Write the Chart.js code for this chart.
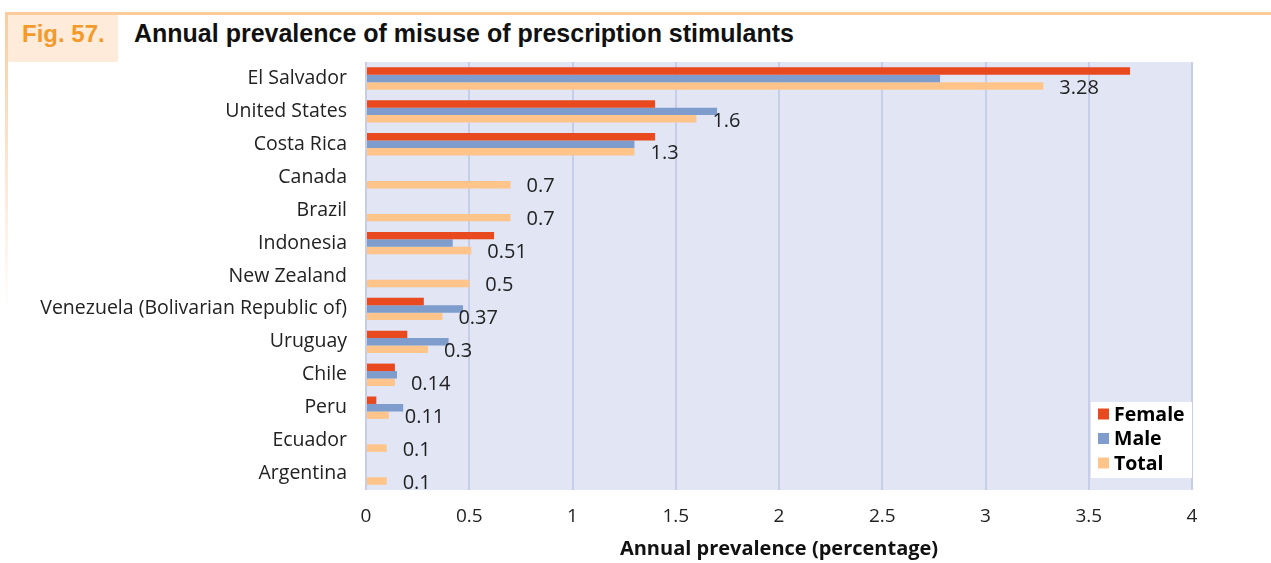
<!DOCTYPE html>
<html>
<head>
<meta charset="utf-8">
<script src="https://cdn.jsdelivr.net/npm/chart.js@4.4.0/dist/chart.umd.min.js"></script>
<style>
  html, body { margin: 0; padding: 0; background: #fff; width: 1271px; height: 563px; overflow: hidden; }
  #wrap { position: relative; width: 1271px; height: 563px; }
  #topline { position: absolute; left: 5px; top: 12px; width: 1266px; height: 3px; background: #FBCB9C; }
  #sideline { position: absolute; left: 5px; top: 12px; width: 3px; height: 300px;
              background: linear-gradient(#FBCB9C, rgba(251, 203, 156, 0)); }
  #figbox { position: absolute; left: 8px; top: 15px; width: 110px; height: 47px; background: #FEEBD9; }
  #fig { position: absolute; left: 22px; top: 20px; font: bold 24px 'Liberation Sans', Arial, sans-serif; color: #F39A2B; white-space: nowrap; }
  #title { position: absolute; left: 134px; top: 19px; font: bold 25px 'Liberation Sans', Arial, sans-serif; color: #111; white-space: nowrap; }
  canvas { position: absolute; left: 0; top: 0; }
</style>
</head>
<body>
<div id="wrap">
  <div id="topline"></div>
  <div id="sideline"></div>
  <div id="figbox"></div>
  <div id="fig">Fig. 57.</div>
  <div id="title">Annual prevalence of misuse of prescription stimulants</div>
  <canvas id="chart" width="1271" height="563"></canvas>
</div>
<script>
// Countries, top to bottom
const categories = [
  'El Salvador', 'United States', 'Costa Rica', 'Canada', 'Brazil', 'Indonesia',
  'New Zealand', 'Venezuela (Bolivarian Republic of)', 'Uruguay', 'Chile', 'Peru',
  'Ecuador', 'Argentina'
];
// Annual prevalence (%) by sex; null where no breakdown is available
const female = [3.7, 1.4, 1.4, null, null, 0.62, null, 0.28, 0.2, 0.14, 0.05, null, null];
const male   = [2.78, 1.7, 1.3, null, null, 0.42, null, 0.47, 0.4, 0.15, 0.18, null, null];
const total  = [3.28, 1.6, 1.3, 0.7, 0.7, 0.51, 0.5, 0.37, 0.3, 0.14, 0.11, 0.1, 0.1];
const xTicks = [0, 0.5, 1, 1.5, 2, 2.5, 3, 3.5, 4];

const seriesNames = ['Female', 'Male', 'Total'];
const seriesColors = ['#E8491F', '#7E9DCC', '#FFC48A'];

const FONT = "'Open Sans', 'Noto Sans', sans-serif";

// Lavender plot background
const plotBackground = {
  id: 'plotBackground',
  beforeDraw(chart) {
    const { ctx, chartArea: a } = chart;
    ctx.save();
    ctx.fillStyle = '#E1E5F4';
    ctx.fillRect(a.left, a.top, a.right - a.left + 1, a.bottom - a.top);
    ctx.restore();
  }
};

// Value labels after the Total bars
const totalLabels = {
  id: 'totalLabels',
  afterDatasetsDraw(chart) {
    const { ctx } = chart;
    const meta = chart.getDatasetMeta(2);
    ctx.save();
    ctx.font = '20px ' + FONT;
    ctx.fillStyle = '#222';
    ctx.textAlign = 'left';
    ctx.textBaseline = 'middle';
    meta.data.forEach((bar, i) => {
      const v = chart.data.datasets[2].data[i];
      if (v == null) return;
      ctx.fillText(String(v), bar.x + 16, bar.y + 2);
    });
    ctx.restore();
  }
};

// Boxed legend in the lower right of the plot
const boxLegend = {
  id: 'boxLegend',
  afterDraw(chart) {
    const { ctx, chartArea: a } = chart;
    const left = a.right - 101, top = a.bottom - 88;
    ctx.save();
    ctx.fillStyle = '#fff';
    ctx.fillRect(left, top, 101, 76);
    ctx.font = 'bold 19.5px ' + FONT;
    ctx.textBaseline = 'middle';
    ctx.textAlign = 'left';
    chart.data.datasets.forEach((ds, i) => {
      const cy = top + 12 + i * 24.5;
      ctx.fillStyle = ds.backgroundColor;
      ctx.fillRect(left + 7, cy - 5.5, 11, 11);
      ctx.fillStyle = '#000';
      ctx.fillText(ds.label, left + 23, cy + 1);
    });
    ctx.restore();
  }
};

function draw() {
  new Chart(document.getElementById('chart'), {
    type: 'bar',
    data: {
      labels: categories,
      datasets: [female, male, total].map((d, i) => ({
        label: seriesNames[i],
        data: d,
        backgroundColor: seriesColors[i],
        borderWidth: 0,
        barPercentage: 1,
        categoryPercentage: 0.68
      }))
    },
    options: {
      indexAxis: 'y',
      responsive: false,
      animation: false,
      layout: { padding: { top: 62, right: 79, left: 0, bottom: 0 } },
      plugins: { legend: { display: false }, tooltip: { enabled: false } },
      scales: {
        x: {
          min: 0,
          max: 4,
          afterBuildTicks(scale) { scale.ticks = xTicks.map(v => ({ value: v })); },
          afterFit(scale) { scale.height = 73; },
          ticks: {
            font: { family: FONT, size: 19 },
            color: '#222',
            padding: 15,
            callback: v => String(v)
          },
          grid: { color: '#C6CDE6', lineWidth: 2, drawTicks: false },
          border: { display: false },
          title: {
            display: true,
            text: 'Annual prevalence (percentage)',
            font: { family: FONT, size: 20, weight: 'bold' },
            color: '#111',
            padding: { top: 4, bottom: 2 }
          }
        },
        y: {
          afterFit(scale) { scale.width = 366; },
          ticks: {
            font: { family: FONT, size: 19.5 },
            color: '#222',
            padding: 19
          },
          grid: { display: false, drawTicks: false },
          border: { display: false }
        }
      }
    },
    plugins: [plotBackground, totalLabels, boxLegend]
  });
}

Promise.all([
  document.fonts.load('18px "Open Sans"'),
  document.fonts.load('bold 18px "Open Sans"')
]).then(draw, draw);
</script>
</body>
</html>
